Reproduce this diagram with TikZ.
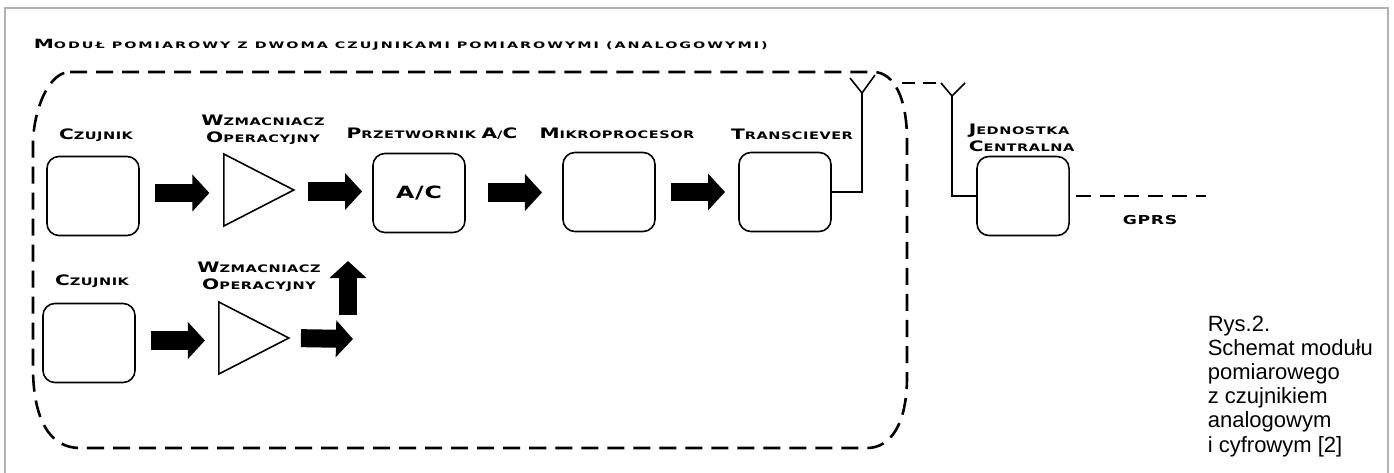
\documentclass[tikz,border=0pt]{standalone}
\usepackage{fontspec}
\usetikzlibrary{arrows.meta,calc,shapes.geometric}
\setmainfont{Liberation Sans}
\newfontfamily\widefont{DejaVu Sans}[FakeStretch=1.4,LetterSpace=5]
\newfontfamily\titlefont{DejaVu Sans}[FakeStretch=1.6,LetterSpace=22]
\newcommand\kap[2]{{\fontsize{4.1}{4.84}\selectfont#1}{\fontsize{2.95}{4.84}\selectfont#2}}
\newcommand\tkap[2]{{\fontsize{3.6}{4}\selectfont#1}{\fontsize{2.55}{4}\selectfont#2}}
\begin{document}
\begin{tikzpicture}[x=0.01cm,y=-0.01cm,line width=0.45pt]
\tikzstyle{blk}=[draw,rounded corners=0.12cm,minimum width=0.92cm,minimum height=0.79cm,inner sep=0pt]
\tikzstyle{amp}=[draw,isosceles triangle,isosceles triangle stretches,minimum width=0.72cm,minimum height=0.70cm,inner sep=0pt,anchor=west]
\tikzstyle{lbl}=[font=\widefont\bfseries\fontsize{4.1}{4.84}\selectfont,align=center,inner sep=0pt]
\tikzstyle{fat}=[line width=0.18cm,-{Triangle[length=0.17cm,width=0.36cm]}]
\tikzstyle{dsh}=[line width=0.74pt,dash pattern=on 0.17cm off 0.09cm]
\useasboundingbox (0,0) rectangle (1394,473);
\draw[gray!60,line width=0.55pt] (5,480) -- (5,8) -- (1388,8) -- (1388,480);
% title and module frame
\node[anchor=west,inner sep=0pt,font=\titlefont\bfseries] (title) at (33,45) {\tkap{M}{ODUŁ POMIAROWY Z DWOMA CZUJNIKAMI POMIAROWYMI (ANALOGOWYMI)}};
\draw[dsh] (70,72) -- (873,72) .. controls (895,72) and (907,100) .. (907,140) -- (907,377)
  .. controls (907,425) and (890,448) .. (867,448) -- (80,448)
  .. controls (50,448) and (33,420) .. (33,367) -- (33,140)
  .. controls (35,105) and (50,72) .. (70,72);
% blocks
\node[blk] (cz1) at (93,196) {};
\node[amp] (wz1) at (223,190) {};
\node[blk,font=\widefont\bfseries\fontsize{4.8}{5}\selectfont] (ac) at (419,193) {A/C};
\node[blk] (mp) at (609,192) {};
\node[blk] (tr) at (785,192) {};
\node[blk] (jc) at (1023,196) {};
\node[blk] (cz2) at (89,343) {};
\node[amp] (wz2) at (218,338) {};
% labels
\node[lbl] (lcz1) at (96,135) {\kap{C}{ZUJNIK}};
\node[lbl] (lwz1) at (263,130) {\kap{W}{ZMACNIACZ}\\\kap{O}{PERACYJNY}};
\node[lbl] (lac) at (432,134) {\kap{P}{RZETWORNIK }\kap{A}{/}\kap{C}{}};
\node[lbl] (lmp) at (617,133) {\kap{M}{IKROPROCESOR}};
\node[lbl] (ltr) at (792,134) {\kap{T}{RANSCIEVER}};
\node[lbl,align=left,anchor=west] (ljc) at (968,138) {\kap{J}{EDNOSTKA}\\\kap{C}{ENTRALNA}};
\node[lbl] (lgprs) at (1150,220) {\fontsize{3.5}{4}\selectfont GPRS};
\node[lbl] (lcz2) at (92,281) {\kap{C}{ZUJNIK}};
\node[lbl] (lwz2) at (259,277) {\kap{W}{ZMACNIACZ}\\\kap{O}{PERACYJNY}};
% arrows
\foreach \a/\b in {cz1/wz1,wz1/ac,ac/mp,mp/tr,cz2/wz2}
  \draw[fat] ($(\a.east)!.5!(\b.west)+(-26,0)$) -- ++(54,0);
\coordinate (j2) at (353,339);
\coordinate (up1) at (348,315);
\coordinate (up2) at (348,261);
\draw[fat,shorten <=0.1cm] (wz2.east) -- (j2);
\draw[fat] (up1) -- (up2);
% antennas
\coordinate (a1) at (862,93);
\coordinate (a2) at (952,96);
\draw (tr.east) -| (a1);
\draw (850,78) -- (a1) -- (875,75);
\draw (jc.west) -| (a2);
\draw (941,83) -- (a2) -- (965,83);
\draw[dsh,dash pattern=on 0.13cm off 0.08cm] (902,83) -- (937,83);
\coordinate (gprs) at (1206,196);
\draw[dsh,dash pattern=on 0.15cm off 0.09cm] ($(jc.east)+(6,0)$) -- (gprs);
% caption
\node[anchor=north west,align=left,inner sep=0pt,font=\fontsize{6.26}{6.88}\selectfont] (cap) at (1207,315)
  {Rys.2.\\Schemat modułu\\pomiarowego\\z czujnikiem\\analogowym\\i cyfrowym [2]};
\end{tikzpicture}
\end{document}
